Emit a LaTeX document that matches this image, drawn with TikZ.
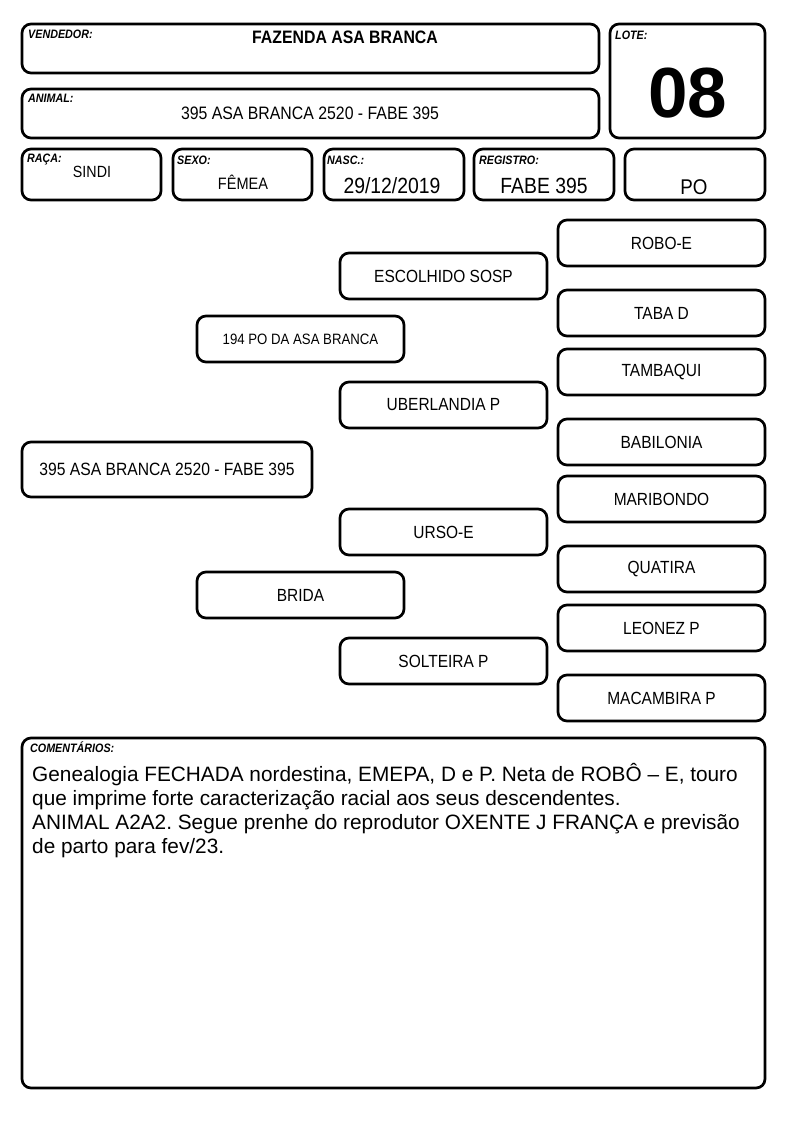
\documentclass[tikz,border=0pt]{standalone}
\usepackage{fontspec}
\setmainfont{Liberation Sans}
\newfontfamily\cnd[FakeStretch=0.88]{Liberation Sans}
\frenchspacing
\begin{document}
\begin{tikzpicture}[x=1pt,y=-1pt,
  box/.style={draw, line width=2.7pt, rounded corners=9pt, inner sep=0pt},
  ped/.style={box, minimum width=207pt, minimum height=46pt, font=\cnd\fontsize{17.6}{20}\selectfont},
  lbl/.style={anchor=base west, inner sep=0pt, font=\cnd\bfseries\itshape\fontsize{12.2}{14}\selectfont},
  val/.style={anchor=base, inner sep=0pt},
  cmt/.style={anchor=base west, inner sep=0pt, font=\fontsize{20.8}{24}\selectfont}]
\useasboundingbox (0,0) rectangle (794,1123);
% header boxes
\node[box, minimum width=577pt, minimum height=49pt] (vend) at (310.5,48.5) {};
\node[box, minimum width=577pt, minimum height=49pt] (anim) at (310.5,113.5) {};
\node[box, minimum width=155pt, minimum height=114pt] (lote) at (687.5,81) {};
\node[box, minimum width=139pt, minimum height=51pt] (raca) at (91.5,174.5) {};
\node[box, minimum width=139pt, minimum height=51pt] (sexo) at (242.5,174.5) {};
\node[box, minimum width=140pt, minimum height=51pt] (nasc) at (394,174.5) {};
\node[box, minimum width=140pt, minimum height=51pt] (regi) at (544,174.5) {};
\node[box, minimum width=140pt, minimum height=51pt] (pobox) at (695,174.5) {};
% labels
\node[lbl] (lvend) at (28,39) {VENDEDOR:};
\node[lbl] (lanim) at (28,103) {ANIMAL:};
\node[lbl] (llote) at (615,40) {LOTE:};
\node[lbl] (lraca) at (27,163) {RAÇA:};
\node[lbl] (lsexo) at (177,165) {SEXO:};
\node[lbl] (lnasc) at (327,165) {NASC.:};
\node[lbl] (lregi) at (479,165) {REGISTRO:};
% values
\node[val, font=\cnd\bfseries\fontsize{18}{20}\selectfont] (tvend) at (345,43.5) {FAZENDA ASA BRANCA};
\node[val, font=\cnd\fontsize{18}{20}\selectfont] (tanim) at (310,119.5) {395 ASA BRANCA 2520 - FABE 395};
\node[val, font=\bfseries\fontsize{71}{75}\selectfont] (tlote) at (687.5,117.5) {08};
\node[val, font=\cnd\fontsize{16.2}{18}\selectfont] (traca) at (92,177.8) {SINDI};
\node[val, font=\cnd\fontsize{16.5}{18}\selectfont] (tsexo) at (243,190) {FÊMEA};
\node[val, font=\cnd\fontsize{22}{24}\selectfont] (tnasc) at (392,194) {29/12/2019};
\node[val, font=\cnd\fontsize{22}{24}\selectfont] (tregi) at (544,194) {FABE 395};
\node[val, font=\cnd\fontsize{21.3}{24}\selectfont] (tpo) at (694,194.6) {PO};
% pedigree
\node[ped] (p1) at (661.5,243) {ROBO-E};
\node[ped] (s1) at (443.5,276) {ESCOLHIDO SOSP};
\node[ped] (p2) at (661.5,313) {TABA D};
\node[ped, font=\cnd\fontsize{15}{18}\selectfont] (f1) at (300.5,339) {194 PO DA ASA BRANCA};
\node[ped] (p3) at (661.5,372) {TAMBAQUI};
\node[ped] (s2) at (443.5,405) {UBERLANDIA P};
\node[ped] (p4) at (661.5,442) {BABILONIA};
\node[box, minimum width=290pt, minimum height=55pt, font=\cnd\fontsize{17.8}{20}\selectfont] (an) at (167,469.5) {395 ASA BRANCA 2520 - FABE 395};
\node[ped] (p5) at (661.5,499) {MARIBONDO};
\node[ped] (s3) at (443.5,532) {URSO-E};
\node[ped] (p6) at (661.5,569) {QUATIRA};
\node[ped] (f2) at (300.5,595) {BRIDA};
\node[ped] (p7) at (661.5,628) {LEONEZ P};
\node[ped] (s4) at (443.5,661) {SOLTEIRA P};
\node[ped] (p8) at (661.5,698) {MACAMBIRA P};
% comments
\node[box, minimum width=743pt, minimum height=350pt] (com) at (393.5,913) {};
\node[lbl] (lcom) at (30,752) {COMENTÁRIOS:};
\node[cmt] (c1) at (32,781.5) {Genealogia FECHADA nordestina, EMEPA, D e P. Neta de ROBÔ – E, touro};
\node[cmt] (c2) at (32,805.5) {que imprime forte caracterização racial aos seus descendentes.};
\node[cmt] (c3) at (32,829.5) {ANIMAL A2A2. Segue prenhe do reprodutor OXENTE J FRANÇA e previsão};
\node[cmt] (c4) at (32,853.5) {de parto para fev/23.};
\end{tikzpicture}
\end{document}
